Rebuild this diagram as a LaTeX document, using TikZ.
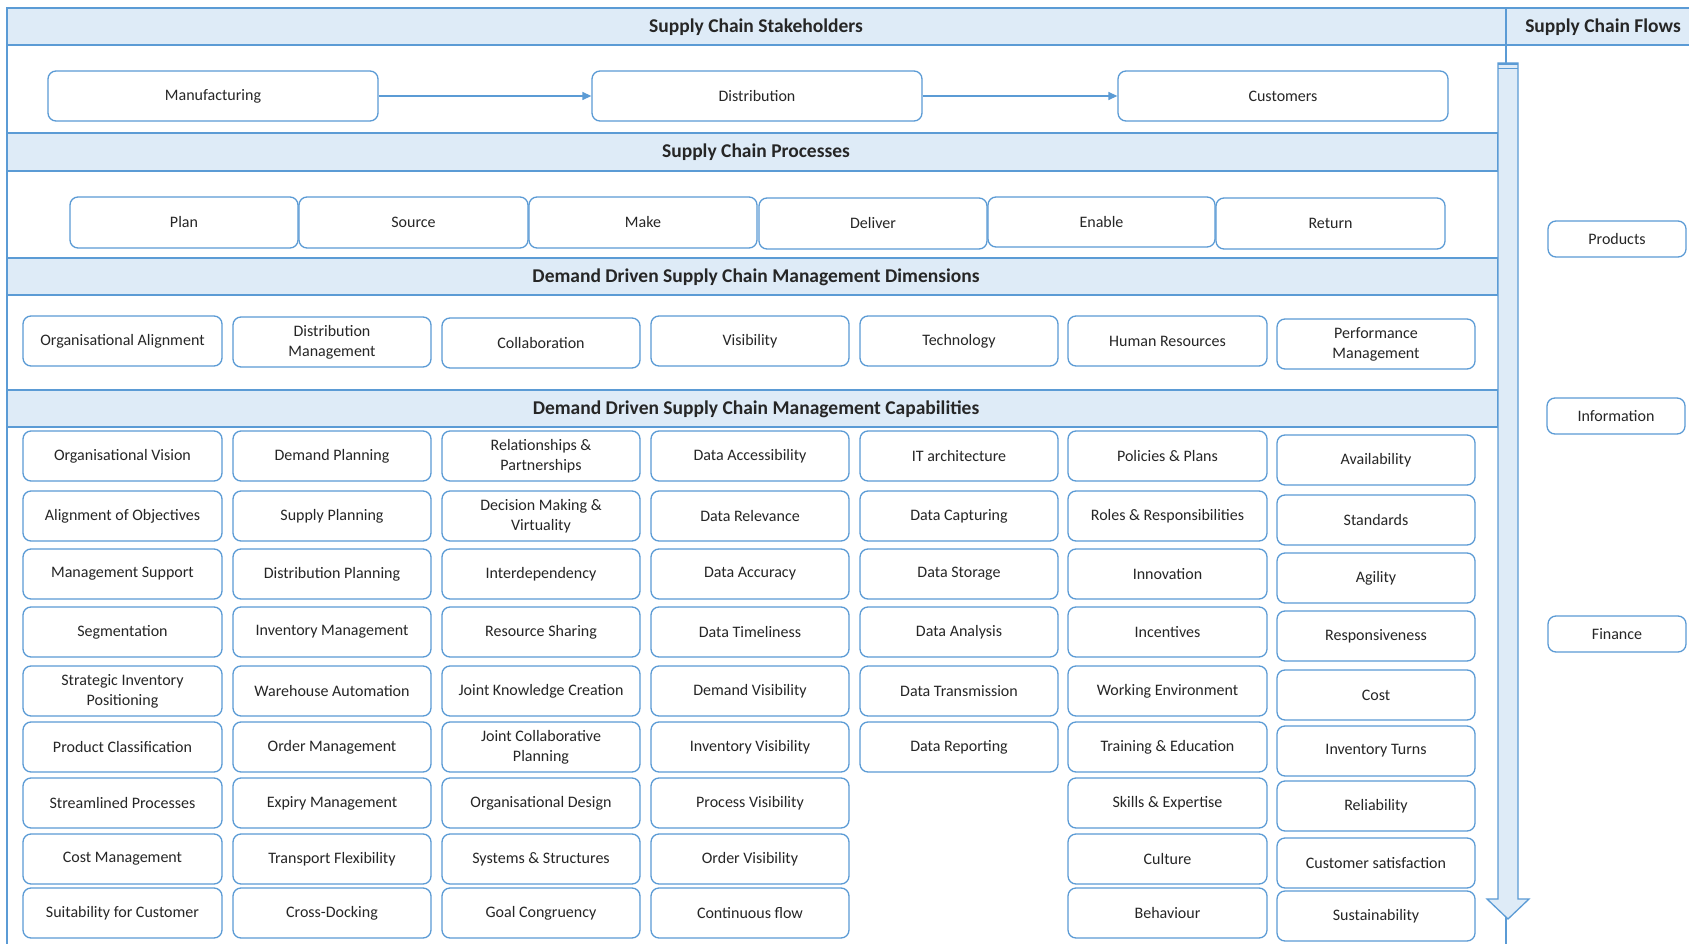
\documentclass[tikz,border=0pt]{standalone}
\usepackage{fontspec}
\setmainfont{Carlito}
\usetikzlibrary{arrows.meta}
\definecolor{bblue}{RGB}{91,155,213}
\definecolor{bfill}{RGB}{222,235,247}
\definecolor{txt}{RGB}{38,38,38}
\tikzset{
  box/.style={draw=bblue, line width=1.3pt, rounded corners=8pt, fill=white, text=txt,
    font=\fontsize{16}{20}\selectfont, inner sep=0pt, align=center},
  band/.style={draw=bblue, line width=1.3pt, fill=bfill},
  bandtitle/.style={text=txt, font=\fontsize{19.5}{23}\selectfont\bfseries, inner sep=0pt},
  frameline/.style={draw=bblue, line width=1.3pt},
  flowarr/.style={draw=bblue, line width=1.3pt, -{Triangle[length=9pt,width=8pt]}}
}
\newcommand\bx[6]{\node[box, minimum width={(#4-#2)*1pt}, minimum height={(#5-#3)*1pt}] (#1) at ({(#2+#4)/2},{(#3+#5)/2}) {#6};}
\newcommand\capcol[5]{%
  \foreach \t [count=\i] in {#5} {
    \pgfmathsetmacro\yy{{#4}[\i-1]}
    \node[box, minimum width={(#3-#2)*1pt}, minimum height=50pt] (#1-\i) at ({(#2+#3)/2},{\yy+25}) {\t};
  }}
\begin{document}
\begin{tikzpicture}[x=1pt,y=-1pt]
\useasboundingbox (0,0) rectangle (1689,944);
\clip (0,0) rectangle (1689,944);
\fill[white] (0,0) rectangle (1689,944);
% header band
\draw[band] (7,8) rectangle (1710,45);
\node[bandtitle] (hst) at (756,27) {Supply Chain Stakeholders};
\node[bandtitle] (hfl) at (1603,27) {Supply Chain Flows};
% frame lines
\draw[frameline] (7,8) -- (7,950);
\draw[frameline] (1506,8) -- (1506,950);
% section bands
\draw[band] (7,133) rectangle (1498,171);
\node[bandtitle] (hpr) at (756,152) {Supply Chain Processes};
\draw[band] (7,258) rectangle (1498,295);
\node[bandtitle] (hdi) at (756,277) {Demand Driven Supply Chain Management Dimensions};
\draw[band] (7,390) rectangle (1498,427);
\node[bandtitle] (hca) at (756,409) {Demand Driven Supply Chain Management Capabilities};
% flow arrow
\draw[draw=bblue, line width=1.3pt, fill=bfill] (1498,63) -- (1518,63) -- (1518,899) -- (1529,899) -- (1508,919) -- (1487,899) -- (1498,899) -- cycle;
\draw[draw=bblue, line width=2.5pt] (1498,64) -- (1518,64);
\draw[draw=bblue, line width=1pt] (1498,69) -- (1518,69);
% stakeholders
\bx{man}{48}{71}{378}{121}{Manufacturing}
\bx{dis}{592}{71}{922}{121}{Distribution}
\bx{cus}{1118}{71}{1448}{121}{Customers}
\draw[flowarr] (man) -- (dis);
\draw[flowarr] (dis) -- (cus);
% processes
\bx{pplan}{70}{197}{298}{248}{Plan}
\bx{psrc}{299}{197}{528}{248}{Source}
\bx{pmak}{529}{197}{757}{248}{Make}
\bx{pdel}{759}{198}{987}{249}{Deliver}
\bx{pena}{988}{197}{1215}{247}{Enable}
\bx{pret}{1216}{198}{1445}{249}{Return}
% dimensions
\bx{d1}{23}{316}{222}{366}{Organisational Alignment}
\bx{d2}{233}{317}{431}{367}{Distribution\\Management}
\bx{d3}{442}{318}{640}{368}{Collaboration}
\bx{d4}{651}{316}{849}{366}{Visibility}
\bx{d5}{860}{316}{1058}{366}{Technology}
\bx{d6}{1068}{316}{1267}{366}{Human Resources}
\bx{d7}{1277}{319}{1475}{369}{Performance\\Management}
% capabilities
\capcol{ca}{23}{222}{431,491,549,607,666,722,778,834,888}{Organisational Vision, Alignment of Objectives, Management Support, Segmentation, {Strategic Inventory\\Positioning}, Product Classification, Streamlined Processes, Cost Management, Suitability for Customer}
\capcol{cb}{233}{431}{431,491,549,607,666,722,778,834,888}{Demand Planning, Supply Planning, Distribution Planning, Inventory Management, Warehouse Automation, Order Management, Expiry Management, Transport Flexibility, Cross-Docking}
\capcol{cc}{442}{640}{431,491,549,607,666,722,778,834,888}{{Relationships \&\\Partnerships}, {Decision Making \&\\Virtuality}, Interdependency, Resource Sharing, Joint Knowledge Creation, {Joint Collaborative\\Planning}, Organisational Design, Systems \& Structures, Goal Congruency}
\capcol{cd}{651}{849}{431,491,549,607,666,722,778,834,888}{Data Accessibility, Data Relevance, Data Accuracy, Data Timeliness, Demand Visibility, Inventory Visibility, Process Visibility, Order Visibility, Continuous flow}
\capcol{ce}{860}{1058}{431,491,549,607,666,722}{IT architecture, Data Capturing, Data Storage, Data Analysis, Data Transmission, Data Reporting}
\capcol{cf}{1068}{1267}{431,491,549,607,666,722,778,834,888}{Policies \& Plans, Roles \& Responsibilities, Innovation, Incentives, Working Environment, Training \& Education, Skills \& Expertise, Culture, Behaviour}
\capcol{cg}{1277}{1475}{435,495,553,611,670,726,781,838,891}{Availability, Standards, Agility, Responsiveness, Cost, Inventory Turns, Reliability, Customer satisfaction, Sustainability}
% flows
\bx{fprod}{1548}{221}{1686}{257}{Products}
\bx{finfo}{1547}{398}{1685}{434}{Information}
\bx{ffin}{1548}{616}{1686}{652}{Finance}
\end{tikzpicture}
\end{document}
